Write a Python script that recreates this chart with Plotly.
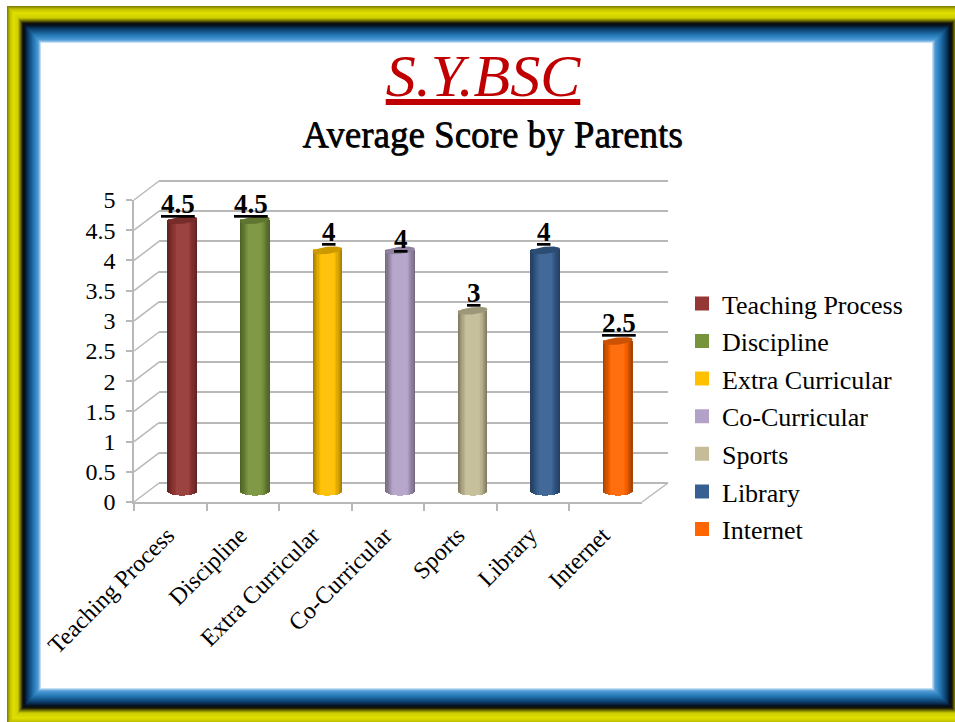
import numpy as np
import plotly.graph_objects as go

categories = ["Teaching Process", "Discipline", "Extra Curricular", "Co-Curricular", "Sports", "Library", "Internet"]
scores = [4.5, 4.5, 4, 4, 3, 4, 2.5]
colors = ["#953735", "#77933C", "#FFC000", "#B3A2C7", "#C4BD97", "#376092", "#FF6600"]
y_ticks = [0, 0.5, 1, 1.5, 2, 2.5, 3, 3.5, 4, 4.5, 5]
y_tick_text = ["0", "0.5", "1", "1.5", "2", "2.5", "3", "3.5", "4", "4.5", "5"]
label_dx = [-4, -4, 2, 1, 1, -1, 1]
label_dy = [3, 3, 5, -2, 5, 5, 5]

W, H = 955, 722
SERIF = "Liberation Serif"
GRID = "#b8b8b8"


def px(v):
    return v / W


def py(v):
    return 1 - v / H


def shade(hex_color, f):
    r, g, b = [int(hex_color[i:i + 2], 16) for i in (1, 3, 5)]
    if f <= 1:
        c = [r * f, g * f, b * f]
    else:
        c = [v + (255 - v) * (f - 1) for v in (r, g, b)]
    return "rgb(%d,%d,%d)" % tuple(c)


# geometry of the pseudo-3D box, in page pixels
FRONT_X = (134, 642)
FRONT_Y = (502, 200)
BACK_X = (159, 668)
BACK_Y = (483, 181)
MID_X = (146, 654)
UNIT = 60.4
MID_ZERO = 492
MID_PAD = 0.2
GRID_PAD = 0.03
BAR_W = 0.41
CAT_RANGE = [-0.5, 6.5]

fig = go.Figure()

# back wall grid carrier (first subplot, drawn lowest)
fig.add_trace(go.Scatter(x=categories, y=scores, mode="none", xaxis="x", yaxis="y",
                         showlegend=False, hoverinfo="skip"))
# front axis carrier
fig.add_trace(go.Scatter(x=categories, y=scores, mode="none", xaxis="x2", yaxis="y2",
                         showlegend=False, hoverinfo="skip"))

xs = list(range(len(categories)))
# legend-carrying bars
for i, (name, v, c) in enumerate(zip(categories, scores, colors)):
    fig.add_trace(go.Bar(x=[i], y=[v], width=BAR_W * 0.9, name=name, legendgroup=name,
                         marker=dict(color=c, line=dict(color=c, width=2)),
                         xaxis="x3", yaxis="y3", hovertemplate=name + ": %{y}<extra></extra>"))

# cylinder shading: nested bars from dark edge to light centre
RY = 3.6 / UNIT
layer_f = np.linspace(1, 0.12, 12)
for f in layer_f:
    t = 1 - f
    tone = 0.66 + 0.40 * min(1, t / 0.55)
    base = -RY * np.sqrt(max(0, 1 - f * f))
    fig.add_trace(go.Bar(x=xs, y=[v - base for v in scores], base=base, width=BAR_W * f,
                         marker=dict(color=[shade(c, tone) for c in colors], line=dict(width=0)),
                         xaxis="x3", yaxis="y3", showlegend=False, hoverinfo="skip"))

# top caps
theta = np.linspace(0, 2 * np.pi, 60)
TILT = 1.6 / UNIT
for i, (v, c) in enumerate(zip(scores, colors)):
    ex = i + BAR_W / 2 * np.cos(theta)
    ey = v + RY * np.sin(theta) + TILT * np.cos(theta)
    fig.add_trace(go.Scatter(x=ex, y=ey, mode="lines", fill="toself", fillcolor=shade(c, 0.8),
                             line=dict(width=0, color=shade(c, 0.8)), xaxis="x3", yaxis="y3",
                             showlegend=False, hoverinfo="skip"))

# frame: concentric rectangles, outermost first
stops_d = [0, 1, 3, 8, 14, 18, 20, 22, 25, 30, 34, 37]
stops_rgb = [(225, 238, 248), (170, 208, 238), (80, 155, 215), (35, 120, 180), (12, 62, 108),
             (4, 14, 26), (20, 20, 8), (100, 100, 0), (205, 205, 0), (225, 225, 0), (190, 190, 0), (118, 118, 0)]
shapes = []
for d in range(37, 0, -1):
    rgb = [np.interp(d - 0.5, stops_d, [s[k] for s in stops_rgb]) for k in range(3)]
    col = "rgb(%d,%d,%d)" % tuple(rgb)
    shapes.append(dict(type="rect", xref="paper", yref="paper", layer="below",
                       x0=px(41 - d * 34 / 37), x1=px(932 + d), y0=py(688 + d), y1=py(43 - d),
                       fillcolor=col, line=dict(width=0)))
shapes.append(dict(type="rect", xref="paper", yref="paper", layer="below",
                   x0=px(41), x1=px(932), y0=py(688), y1=py(43), fillcolor="white", line=dict(width=0)))

# left wall diagonals, floor edge
for tick in y_ticks:
    yf = FRONT_Y[0] - tick * UNIT
    shapes.append(dict(type="line", xref="paper", yref="paper", layer="below",
                       x0=px(FRONT_X[0]), x1=px(BACK_X[0]), y0=py(yf), y1=py(yf - 19),
                       line=dict(color=GRID, width=1.5)))
shapes.append(dict(type="line", xref="paper", yref="paper", layer="below",
                   x0=px(FRONT_X[1]), x1=px(BACK_X[1]), y0=py(FRONT_Y[0]), y1=py(BACK_Y[0]),
                   line=dict(color=GRID, width=1.5)))

# value labels
annotations = []
for i, v in enumerate(scores):
    annotations.append(dict(x=i, y=v, xref="x3", yref="y3", text="<b><u>%g</u></b>" % v,
                            showarrow=False, xanchor="center", yanchor="bottom",
                            xshift=label_dx[i], yshift=label_dy[i] - 4,
                            font=dict(family=SERIF, size=27, color="black")))
annotations.append(dict(x=px(492), y=py(134), xref="paper", yref="paper", text="Average Score by Parents",
                        showarrow=False, xanchor="center", yanchor="middle",
                        font=dict(family=SERIF, size=37, color="black", shadow="0.8px 0.6px 0.6px #222")))

axis_off = dict(showgrid=False, zeroline=False, showticklabels=False, ticks="", showline=False)

fig.update_layout(
    width=W, height=H, margin=dict(l=0, r=0, t=0, b=0, pad=0, autoexpand=False),
    paper_bgcolor="white", plot_bgcolor="rgba(0,0,0,0)",
    barmode="overlay", bargap=0,
    title=dict(text="<i><u>S.Y.BSC</u></i>", x=px(483), xanchor="center", y=py(75), yanchor="middle",
               font=dict(family=SERIF, size=60, color="#C00000")),
    xaxis=dict(domain=[px(BACK_X[0]), px(BACK_X[1])], type="category", categoryorder="array",
               categoryarray=categories, range=CAT_RANGE, anchor="y", **axis_off),
    yaxis=dict(domain=[py(BACK_Y[0] + GRID_PAD * UNIT), py(BACK_Y[1] - GRID_PAD * UNIT)],
               range=[-GRID_PAD, 5 + GRID_PAD], anchor="x", showgrid=True,
               gridcolor=GRID, gridwidth=2, tickvals=y_ticks, zeroline=False, showticklabels=False,
               ticks="", showline=False),
    xaxis2=dict(domain=[px(FRONT_X[0]), px(FRONT_X[1])], type="category", categoryorder="array",
                categoryarray=categories, range=CAT_RANGE, anchor="y2", tickson="boundaries",
                ticks="outside", ticklen=7, ticklabelstandoff=8, ticklabelshift=-3,
                tickcolor=GRID, tickwidth=1.5, showline=True, linecolor=GRID, linewidth=1.5,
                showgrid=False, zeroline=False, tickangle=-45, automargin=False,
                tickfont=dict(family=SERIF, size=24, color="black")),
    yaxis2=dict(domain=[py(FRONT_Y[0]), py(FRONT_Y[1])], range=[0, 5], anchor="x2", tickvals=y_ticks,
                ticktext=y_tick_text, ticks="outside", ticklen=6, tickcolor=GRID, tickwidth=1.5,
                showline=True, linecolor=GRID, linewidth=1.5, showgrid=False, zeroline=False,
                ticklabelstandoff=6, automargin=False, tickfont=dict(family=SERIF, size=24, color="black")),
    xaxis3=dict(domain=[px(MID_X[0]), px(MID_X[1])], range=[-0.5, 6.5], anchor="y3", **axis_off),
    yaxis3=dict(domain=[py(MID_ZERO + MID_PAD * UNIT), py(MID_ZERO - 5 * UNIT)], range=[-MID_PAD, 5],
                anchor="x3", **axis_off),
    legend=dict(x=px(682), y=py(280), xanchor="left", yanchor="top", bgcolor="rgba(0,0,0,0)",
                font=dict(family=SERIF, size=26, color="black"), tracegroupgap=0.8, itemclick=False,
                itemdoubleclick=False),
    shapes=shapes, annotations=annotations, showlegend=True,
)

fig.write_html("out.html", post_script="document.body.style.margin='0';document.body.style.overflow='hidden';",
               config=dict(displayModeBar=False))
